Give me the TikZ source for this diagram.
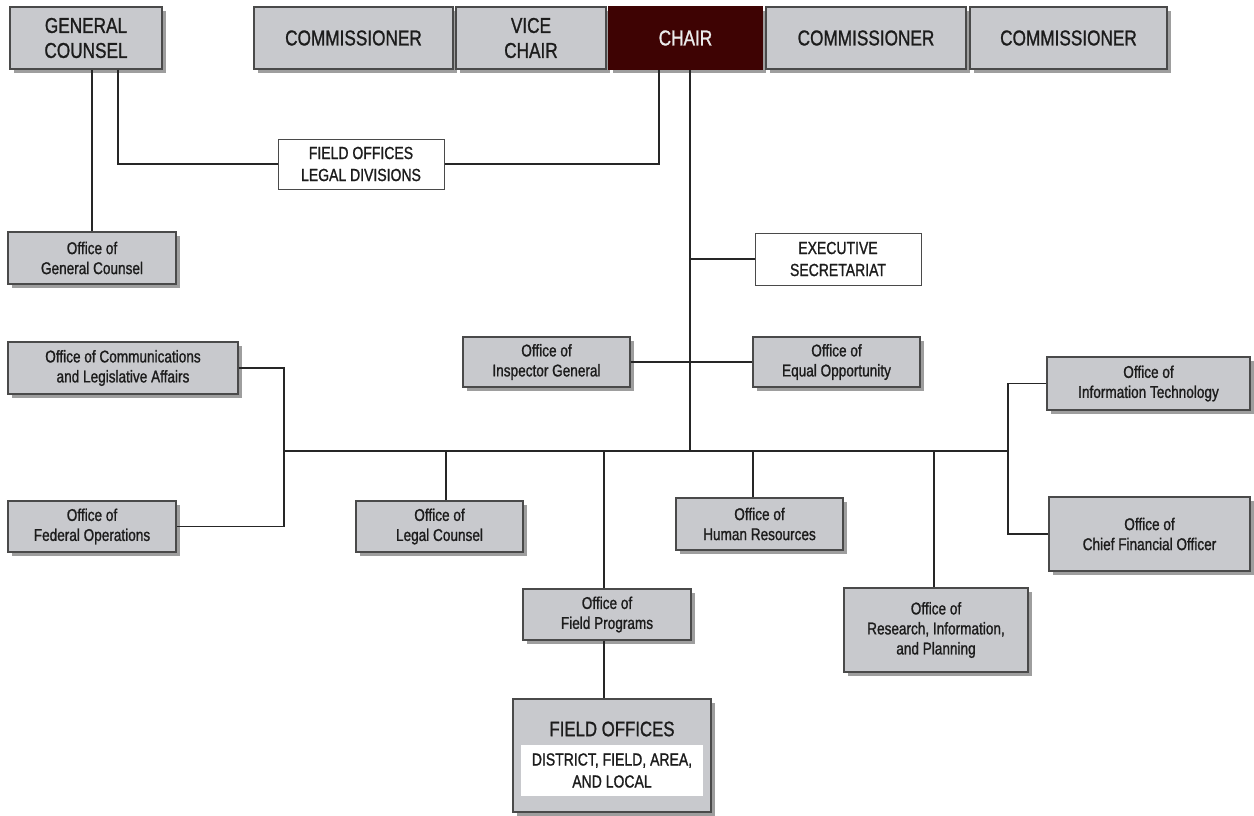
\documentclass[tikz,border=0pt]{standalone}
\usepackage{fontspec}
\setmainfont{Liberation Sans}[FakeStretch=0.8, FakeBold=1.1]
\usetikzlibrary{shadows}
\definecolor{boxgray}{HTML}{C8C9CD}
\definecolor{edgegray}{HTML}{4A4A4A}
\definecolor{shad}{HTML}{9E9E9E}
\definecolor{chairred}{HTML}{3E0303}
\definecolor{txt}{HTML}{1C1C1C}
\begin{document}
\begin{tikzpicture}[x=1pt,y=-1pt,
  base/.style={draw=edgegray, line width=1.4pt, inner sep=0pt, align=center, text=txt},
  grayshad/.style={general shadow={fill=shad, shadow xshift=4pt, shadow yshift=-4pt}},
  bigbox/.style={base, grayshad, fill=boxgray, font=\fontsize{21.5}{25}\selectfont},
  smallbox/.style={base, grayshad, fill=boxgray, font=\fontsize{17}{20}\selectfont},
  whitebox/.style={base, fill=white, line width=1pt, font=\fontsize{17.5}{22}\selectfont},
  conn/.style={draw=black!85, line width=1.4pt}
]
\useasboundingbox[fill=white] (0,0) rectangle (1254,815);

% top row
\node[bigbox, minimum width=152pt, minimum height=62pt] (gc) at (86,38) {GENERAL\\COUNSEL};
\node[bigbox, minimum width=199pt, minimum height=62pt] (c1) at (353.5,38) {COMMISSIONER};
\node[bigbox, minimum width=150pt, minimum height=62pt] (vc) at (531,38) {VICE\\CHAIR};
\node[bigbox, minimum width=153pt, minimum height=62pt, fill=chairred, draw=chairred, text=white!92!black] (chair) at (685.5,38) {CHAIR};
\node[bigbox, minimum width=200pt, minimum height=62pt] (c2) at (866,38) {COMMISSIONER};
\node[bigbox, minimum width=197pt, minimum height=62pt] (c3) at (1068.5,38) {COMMISSIONER};

% white boxes
\node[whitebox, minimum width=166pt, minimum height=50pt] (flo) at (361,164) {FIELD OFFICES\\LEGAL DIVISIONS};
\node[whitebox, minimum width=166pt, minimum height=52pt] (es) at (838,259) {EXECUTIVE\\SECRETARIAT};

% offices
\node[smallbox, minimum width=168pt, minimum height=52pt] (ogc) at (92,258) {Office of\\General Counsel};
\node[smallbox, minimum width=167pt, minimum height=50pt] (ig) at (546.5,362) {Office of\\Inspector General};
\node[smallbox, minimum width=167pt, minimum height=50pt] (eo) at (836.5,362) {Office of\\Equal Opportunity};
\node[smallbox, minimum width=230pt, minimum height=52pt] (ocl) at (123,368) {Office of Communications\\and Legislative Affairs};
\node[smallbox, minimum width=168pt, minimum height=51pt] (fo) at (92,526.5) {Office of\\Federal Operations};
\node[smallbox, minimum width=167pt, minimum height=51pt] (olc) at (439.5,526.5) {Office of\\Legal Counsel};
\node[smallbox, minimum width=167pt, minimum height=52pt] (ohr) at (759.5,524) {Office of\\Human Resources};
\node[smallbox, minimum width=168pt, minimum height=51pt] (ofp) at (607,614.5) {Office of\\Field Programs};
\node[smallbox, minimum width=184pt, minimum height=84pt] (orip) at (936,630) {Office of\\Research, Information,\\and Planning};
\node[smallbox, minimum width=203pt, minimum height=53pt] (oit) at (1148.5,383.5) {Office of\\Information Technology};
\node[smallbox, minimum width=201pt, minimum height=74pt] (cfo) at (1149.5,534) {Office of\\Chief Financial Officer};

% field offices
\node[base, grayshad, fill=boxgray, minimum width=198pt, minimum height=113pt] (fob) at (612,755.5) {};
\node[font=\fontsize{21}{24}\selectfont, text=txt, inner sep=0pt] (fot) at (612,729) {FIELD OFFICES};
\node[fill=white, inner sep=0pt, align=center, text=txt, minimum width=182pt, minimum height=51pt, font=\fontsize{17.5}{22}\selectfont] (foi) at (612,770.5) {DISTRICT, FIELD, AREA,\\AND LOCAL};

% coordinates
\coordinate (busL) at (284,451);
\coordinate (busR) at (1008,451);
\coordinate (busC) at (690,451);
\coordinate (fpx) at (604,0);

% connectors
\draw[conn] (ogc.north) -- (ogc.north |- gc.south);
\draw[conn] ([xshift=32pt]gc.south) |- (flo.west);
\draw[conn] ([xshift=-26.5pt]chair.south) |- (flo.east);
\draw[conn] ([xshift=4.5pt]chair.south) -- (busC);
\draw[conn] (es.west) -- (es.west -| busC);
\draw[conn] (ig.east) -- (eo.west);
\draw[conn] (busL) -- (busR);
\draw[conn] (ocl.east) -| (busL) |- (fo.east);
\draw[conn] ([xshift=6.5pt]olc.north) -- ([xshift=6.5pt]olc.north |- busL);
\draw[conn] ([xshift=-6.5pt]ohr.north) -- ([xshift=-6.5pt]ohr.north |- busL);
\draw[conn] (ofp.north -| fpx) -- (busL -| fpx);
\draw[conn] (ofp.south -| fpx) -- (fob.north -| fpx);
\draw[conn] ([xshift=-2pt]orip.north) -- ([xshift=-2pt]orip.north |- busL);
\draw[conn] (oit.west) -| (busR) |- (cfo.west);
\end{tikzpicture}
\end{document}
